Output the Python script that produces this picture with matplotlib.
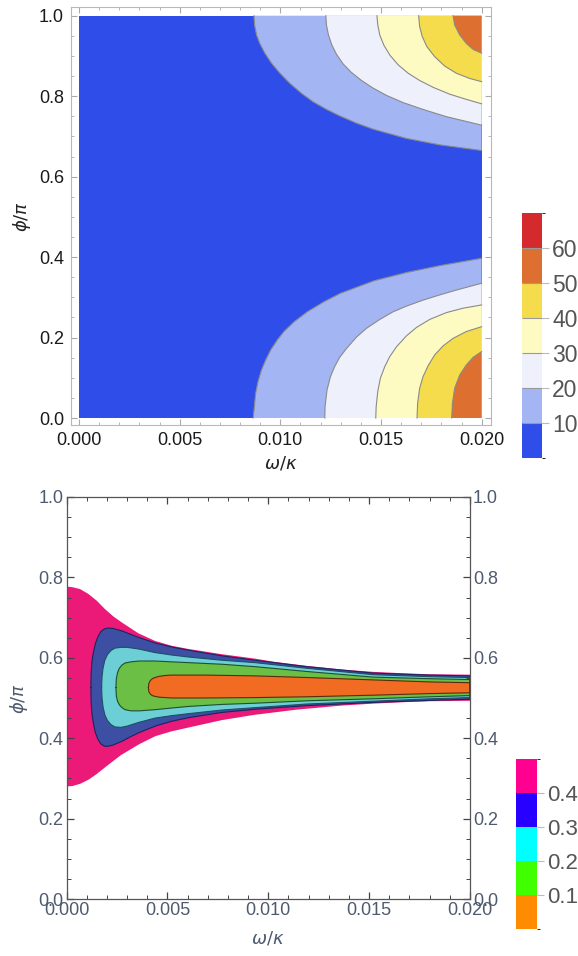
import matplotlib
matplotlib.use("Agg")
import matplotlib.pyplot as plt
from matplotlib.colors import ListedColormap, BoundaryNorm
from matplotlib.ticker import MultipleLocator, FormatStrFormatter

plt.rcParams['font.family'] = ['Liberation Sans', 'DejaVu Sans']

# ---------------- top panel data (contour lines) ----------------
top_levels = [0, 10, 20, 30, 40, 50, 60, 70]
top_colors = ['#2f4de8', '#a3b5f2', '#eef1fb', '#fefbc2', '#f4dc4c', '#dd7030', '#d42a2d']
top_ticks = [10, 20, 30, 40, 50, 60]

# lower lobes: from the bottom edge up to the right edge
lv10_lo_w = [0.00865, 0.00871, 0.00877, 0.00889, 0.00906, 0.00927, 0.00952, 0.00985, 0.01018, 0.01068,
             0.01134, 0.01217, 0.01299, 0.01465, 0.01630, 0.01796, 0.0200]
lv10_lo_p = [0.0, 0.028, 0.061, 0.090, 0.119, 0.144, 0.169, 0.194, 0.215, 0.239,
             0.264, 0.289, 0.310, 0.341, 0.362, 0.379, 0.397]
lv20_lo_w = [0.01221, 0.01222, 0.01232, 0.01249, 0.01270, 0.01295, 0.01329, 0.01378, 0.01428, 0.01494,
             0.0156, 0.01626, 0.01709, 0.01792, 0.01874, 0.0200]
lv20_lo_p = [0.0, 0.028, 0.070, 0.103, 0.128, 0.151, 0.173, 0.201, 0.223, 0.245,
             0.264, 0.278, 0.293, 0.306, 0.318, 0.335]
lv30_lo_w = [0.01474, 0.01476, 0.01484, 0.01497, 0.01519, 0.01544, 0.01577, 0.01626, 0.01676, 0.01742,
             0.01825, 0.01908, 0.0200]
lv30_lo_p = [0.0, 0.028, 0.066, 0.099, 0.128, 0.153, 0.177, 0.204, 0.225, 0.245,
             0.262, 0.273, 0.281]
lv40_lo_w = [0.01679, 0.01682, 0.01692, 0.01709, 0.01734, 0.01767, 0.01808, 0.01858, 0.01924, 0.0200]
lv40_lo_p = [0.0, 0.037, 0.074, 0.103, 0.130, 0.157, 0.179, 0.198, 0.215, 0.227]
lv50_lo_w = [0.01851, 0.01855, 0.01866, 0.01891, 0.01924, 0.01958, 0.0200]
lv50_lo_p = [0.0, 0.037, 0.074, 0.107, 0.132, 0.151, 0.165]

# upper lobes: from the top edge down to the right edge
lv10_up_w = [0.00869, 0.00872, 0.00882, 0.00898, 0.00923, 0.00956, 0.00998, 0.01047, 0.01105, 0.01163,
             0.0123, 0.01295, 0.01378, 0.01461, 0.01626, 0.01792, 0.0200]
lv10_up_p = [1.0, 0.977, 0.952, 0.931, 0.907, 0.882, 0.857, 0.832, 0.807, 0.786,
             0.767, 0.751, 0.733, 0.718, 0.695, 0.679, 0.665]
lv20_up_w = [0.01226, 0.01229, 0.01239, 0.01256, 0.01279, 0.01312, 0.01353, 0.01403, 0.01461, 0.01527,
             0.0161, 0.01709, 0.01825, 0.0200]
lv20_up_p = [1.0, 0.977, 0.952, 0.927, 0.904, 0.880, 0.859, 0.839, 0.820, 0.802,
             0.784, 0.767, 0.749, 0.728]
lv30_up_w = [0.0148, 0.01484, 0.01494, 0.01514, 0.01544, 0.01585, 0.01635, 0.01692, 0.01759, 0.01841,
             0.01924, 0.0200]
lv30_up_p = [1.0, 0.977, 0.952, 0.927, 0.902, 0.878, 0.857, 0.839, 0.822, 0.805,
             0.792, 0.781]
lv40_up_w = [0.01687, 0.01692, 0.01705, 0.01728, 0.01767, 0.01816, 0.01874, 0.01941, 0.0200]
lv40_up_p = [1.0, 0.973, 0.948, 0.923, 0.898, 0.875, 0.857, 0.844, 0.836]
lv50_up_w = [0.01858, 0.01866, 0.01891, 0.01924, 0.01958, 0.0200]
lv50_up_p = [1.0, 0.977, 0.952, 0.931, 0.916, 0.907]

# ---------------- bottom panel data ----------------
bot_levels = [0.0, 0.1, 0.2, 0.3, 0.4, 0.5]
bot_bar_colors = ['#ff8c00', '#40ff00', '#00ffff', '#2800ff', '#ff0090']
bot_ticks = [0.1, 0.2, 0.3, 0.4]

pink_up_w = [0, 0.00026, 0.00067, 0.00108, 0.0015, 0.00191, 0.00232, 0.00274, 0.00356, 0.00439,
             0.00521, 0.00604, 0.00769, 0.00934, 0.0103, 0.0119, 0.0136, 0.0152, 0.0169, 0.0180, 0.0200]
pink_up_p = [0.777, 0.776, 0.771, 0.759, 0.742, 0.721, 0.703, 0.688, 0.661, 0.642,
             0.630, 0.622, 0.609, 0.598, 0.590, 0.580, 0.571, 0.565, 0.561, 0.559, 0.558]
pink_lo_w = [0, 0.0003, 0.0007, 0.0011, 0.0015, 0.0020, 0.0027, 0.0036, 0.0044, 0.0052,
             0.0060, 0.0077, 0.0093, 0.0114, 0.0136, 0.0152, 0.0169, 0.0180, 0.0200]
pink_lo_p = [0.280, 0.281, 0.287, 0.297, 0.311, 0.331, 0.358, 0.385, 0.405, 0.417,
             0.426, 0.445, 0.458, 0.471, 0.481, 0.486, 0.490, 0.492, 0.493]

blue_w = [0.00121, 0.00122, 0.00126, 0.00133, 0.00143, 0.00155, 0.0017, 0.00188, 0.00207, 0.0023,
          0.00274, 0.00315, 0.00356, 0.00439, 0.0052, 0.00604, 0.00769, 0.00934, 0.0119, 0.0152,
          0.018, 0.02]
blue_up_p = [0.526, 0.560, 0.590, 0.613, 0.635, 0.652, 0.665, 0.672, 0.674, 0.673,
             0.667, 0.659, 0.651, 0.637, 0.627, 0.619, 0.605, 0.594, 0.578, 0.562,
             0.557, 0.555]
blue_lo_p = [0.526, 0.490, 0.462, 0.437, 0.414, 0.398, 0.386, 0.380, 0.380, 0.383,
             0.392, 0.403, 0.413, 0.430, 0.442, 0.451, 0.464, 0.472, 0.481, 0.489,
             0.494, 0.497]

cyan_w = [0.00174, 0.00176, 0.00181, 0.0019, 0.00203, 0.0022, 0.0024, 0.0027, 0.0030, 0.00356,
          0.00439, 0.0052, 0.00604, 0.00769, 0.00934, 0.0119, 0.0152, 0.018, 0.02]
cyan_up_p = [0.526, 0.552, 0.574, 0.594, 0.608, 0.618, 0.624, 0.626, 0.626, 0.622,
             0.613, 0.607, 0.602, 0.594, 0.588, 0.574, 0.558, 0.553, 0.551]
cyan_lo_p = [0.526, 0.500, 0.478, 0.458, 0.444, 0.434, 0.428, 0.427, 0.430, 0.439,
             0.450, 0.456, 0.461, 0.470, 0.476, 0.485, 0.492, 0.498, 0.501]

green_w = [0.00245, 0.00247, 0.00253, 0.00262, 0.00275, 0.0029, 0.0032, 0.0036, 0.00439, 0.0052,
           0.00604, 0.00769, 0.00934, 0.0119, 0.0152, 0.018, 0.02]
green_up_p = [0.526, 0.548, 0.563, 0.574, 0.582, 0.587, 0.590, 0.592, 0.592, 0.590,
              0.588, 0.584, 0.578, 0.566, 0.552, 0.548, 0.546]
green_lo_p = [0.526, 0.505, 0.492, 0.483, 0.476, 0.471, 0.468, 0.468, 0.471, 0.475,
              0.479, 0.484, 0.487, 0.493, 0.498, 0.503, 0.506]

orange_w = [0.00406, 0.00408, 0.00415, 0.00425, 0.00439, 0.0046, 0.0049, 0.00521, 0.00687, 0.00934,
            0.0119, 0.0152, 0.018, 0.02]
orange_up_p = [0.526, 0.536, 0.543, 0.548, 0.551, 0.554, 0.556, 0.557, 0.557, 0.555,
               0.551, 0.545, 0.540, 0.538]
orange_lo_p = [0.526, 0.516, 0.510, 0.506, 0.504, 0.502, 0.501, 0.500, 0.500, 0.501,
               0.503, 0.507, 0.511, 0.513]

W = 578
H = 956
fig = plt.figure(figsize=(W / 100, H / 100), dpi=100)


def box(x0, y0, x1, y1):
    # pixel box -> figure fraction
    return [x0 / W, 1 - y1 / H, (x1 - x0) / W, (y1 - y0) / H]


# ======================= top panel =======================
ax1 = fig.add_axes(box(71, 7.3, 490.7, 425))
ax1.fill_between([0, 0.02], 0, 1, color=top_colors[0], lw=0)

lo_curves = [(lv10_lo_w, lv10_lo_p), (lv20_lo_w, lv20_lo_p), (lv30_lo_w, lv30_lo_p),
             (lv40_lo_w, lv40_lo_p), (lv50_lo_w, lv50_lo_p)]
up_curves = [(lv10_up_w, lv10_up_p), (lv20_up_w, lv20_up_p), (lv30_up_w, lv30_up_p),
             (lv40_up_w, lv40_up_p), (lv50_up_w, lv50_up_p)]
for i, (w, p) in enumerate(lo_curves):
    ax1.fill(list(w) + [0.02], list(p) + [0.0], color=top_colors[i + 1], lw=0)
    ax1.plot(w, p, color='#8a8a8a', lw=0.8, solid_joinstyle='round')
for i, (w, p) in enumerate(up_curves):
    ax1.fill(list(w) + [0.02], list(p) + [1.0], color=top_colors[i + 1], lw=0)
    ax1.plot(w, p, color='#8a8a8a', lw=0.8, solid_joinstyle='round')

ax1.set_xlim(-0.0004, 0.02045)
ax1.set_ylim(-0.0174, 1.0209)
ax1.xaxis.set_major_locator(MultipleLocator(0.005))
ax1.xaxis.set_minor_locator(MultipleLocator(0.001))
ax1.yaxis.set_major_locator(MultipleLocator(0.2))
ax1.yaxis.set_minor_locator(MultipleLocator(0.05))
ax1.xaxis.set_major_formatter(FormatStrFormatter('%.3f'))
ax1.yaxis.set_major_formatter(FormatStrFormatter('%.1f'))
ax1.tick_params(which='both', direction='in', top=True, right=True, color='#aaaaaa',
                labelsize=13, labelcolor='#1a1a1a', pad=5)
ax1.tick_params(which='major', length=4.5, width=0.8)
ax1.tick_params(which='minor', length=2.5, width=0.6)
for s in ax1.spines.values():
    s.set_color('#b8b8b8')
    s.set_linewidth(0.8)
ax1.set_xlabel(r'$\omega/\kappa$', fontsize=13, color='#222222', labelpad=4)
ax1.set_ylabel(r'$\phi/\pi$', fontsize=13, color='#222222', labelpad=4)

cax1 = fig.add_axes(box(521.7, 213.3, 542.3, 458))
cb1 = matplotlib.colorbar.ColorbarBase(cax1, cmap=ListedColormap(top_colors),
                                       norm=BoundaryNorm(top_levels, len(top_colors)),
                                       ticks=top_ticks, drawedges=True)
cb1.outline.set_visible(False)
cb1.dividers.set_color('#999999')
cb1.dividers.set_linewidth(0.8)
cax1.tick_params(length=5, width=0.8, color='#bbbbbb', labelsize=16.5, labelcolor='#555555', pad=2)

# ======================= bottom panel =======================
ax2 = fig.add_axes(box(66.5, 497, 470, 899))

regions = [
    (pink_up_w, pink_up_p, pink_lo_w, pink_lo_p, '#eb1a78', None),
    (blue_w, blue_up_p, blue_w, blue_lo_p, '#3d4fa3', '#1b2460'),
    (cyan_w, cyan_up_p, cyan_w, cyan_lo_p, '#6ccfd6', '#1b4f66'),
    (green_w, green_up_p, green_w, green_lo_p, '#6cbf45', '#1d4f30'),
    (orange_w, orange_up_p, orange_w, orange_lo_p, '#f26b22', '#5a2a10'),
]
for uw, up, lw_, lp, fc, ec in regions:
    xs = list(uw) + list(lw_)[::-1]
    ys = list(up) + list(lp)[::-1]
    ax2.fill(xs, ys, color=fc, lw=0)
    if ec is not None:
        ax2.plot(xs + [xs[0]], ys + [ys[0]], color=ec, lw=0.8, solid_joinstyle='round')

ax2.set_xlim(0, 0.02)
ax2.set_ylim(0, 1)
ax2.xaxis.set_major_locator(MultipleLocator(0.005))
ax2.xaxis.set_minor_locator(MultipleLocator(0.001))
ax2.yaxis.set_major_locator(MultipleLocator(0.2))
ax2.yaxis.set_minor_locator(MultipleLocator(0.05))
ax2.xaxis.set_major_formatter(FormatStrFormatter('%.3f'))
ax2.yaxis.set_major_formatter(FormatStrFormatter('%.1f'))
ax2.tick_params(which='both', direction='in', top=True, right=True, labelright=True,
                color='#444444', labelsize=13, labelcolor='#4f5a70', pad=2)
ax2.tick_params(which='major', length=5, width=0.9)
ax2.tick_params(which='minor', length=3, width=0.7)
for s in ax2.spines.values():
    s.set_color('#555555')
    s.set_linewidth(0.9)
ax2.set_xlabel(r'$\omega/\kappa$', fontsize=13, color='#4f5a70', labelpad=8)
ax2.set_ylabel(r'$\phi/\pi$', fontsize=13, color='#4f5a70', labelpad=6)

cax2 = fig.add_axes(box(516, 759, 537, 929))
cb2 = matplotlib.colorbar.ColorbarBase(cax2, cmap=ListedColormap(bot_bar_colors),
                                       norm=BoundaryNorm(bot_levels, len(bot_bar_colors)),
                                       ticks=bot_ticks)
cb2.outline.set_visible(False)
cax2.tick_params(length=5, width=0.8, color='#bbbbbb', labelsize=16, labelcolor='#555555', pad=2)

fig.savefig('out.png', dpi=100)
